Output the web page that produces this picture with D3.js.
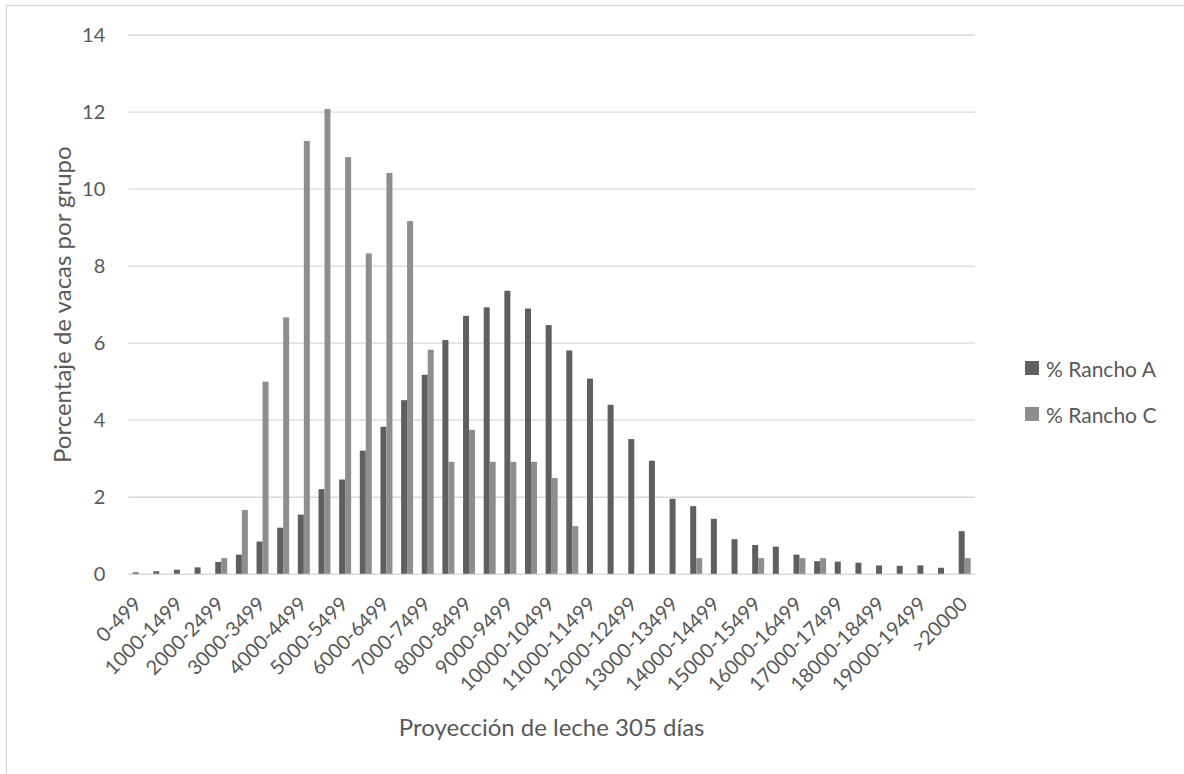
<!DOCTYPE html>
<html>
<head>
<meta charset="utf-8">
<script src="https://cdn.jsdelivr.net/npm/d3@7"></script>
<style>
  html, body { margin: 0; padding: 0; background: #ffffff; }
  svg { display: block; }
  text { font-family: Lato, "Open Sans", sans-serif; fill: #595959; }
</style>
</head>
<body>
<svg id="chart" width="1184" height="774"></svg>
<script>
const categories = ["0-499","500-999","1000-1499","1500-1999","2000-2499","2500-2999","3000-3499","3500-3999","4000-4499","4500-4999","5000-5499","5500-5999","6000-6499","6500-6999","7000-7499","7500-7999","8000-8499","8500-8999","9000-9499","9500-9999","10000-10499","10500-10999","11000-11499","11500-11999","12000-12499","12500-12999","13000-13499","13500-13999","14000-14499","14500-14999","15000-15499","15500-15999","16000-16499","16500-16999","17000-17499","17500-17999","18000-18499","18500-18999","19000-19499","19500-19999",">20000"];
const ranchoA = [0.05,0.08,0.12,0.18,0.32,0.51,0.85,1.21,1.55,2.21,2.46,3.21,3.83,4.52,5.18,6.08,6.71,6.93,7.36,6.90,6.47,5.81,5.08,4.40,3.51,2.95,1.96,1.77,1.44,0.91,0.76,0.72,0.51,0.34,0.33,0.30,0.23,0.22,0.23,0.17,1.12];
const ranchoC = [0,0,0,0,0.42,1.67,5.00,6.67,11.25,12.08,10.83,8.33,10.42,9.17,5.83,2.92,3.75,2.92,2.92,2.92,2.50,1.25,0,0,0,0,0,0.42,0,0,0.42,0,0.42,0.42,0,0,0,0,0,0,0.42];
const seriesNames = ["% Rancho A", "% Rancho C"];
const seriesColors = ["#5f5f5f", "#8e8e8e"];
const yTicks = [0,2,4,6,8,10,12,14];
const xTitle = "Proyección de leche 305 días";
const yTitle = "Porcentaje de vacas por grupo";

const svg = d3.select("#chart");
const plotL = 128.3, plotR = 975, plotT = 35, plotB = 574.3;

// chart border
svg.append("rect").attr("x", 6.5).attr("y", 5.5).attr("width", 1300).attr("height", 900)
  .attr("fill", "none").attr("stroke", "#d9d9d9").attr("stroke-width", 1.3);

const x = d3.scaleBand().domain(categories).range([plotL, plotR]).padding(0);
const y = d3.scaleLinear().domain([0, 14]).range([plotB, plotT]);

// gridlines
svg.append("g").selectAll("line").data(yTicks).join("line")
  .attr("x1", plotL).attr("x2", plotR)
  .attr("y1", d => y(d)).attr("y2", d => y(d))
  .attr("stroke", "#d9d9d9").attr("stroke-width", 1.3);

// y tick labels via axis
const yAxis = svg.append("g").attr("transform", `translate(${plotL},0)`)
  .call(d3.axisLeft(y).tickValues(yTicks).tickSize(0).tickPadding(23).tickFormat(d3.format("d")));
yAxis.select(".domain").remove();
yAxis.selectAll("text").style("font-size", "20px").attr("fill", "#595959")
  .style("font-family", "Lato, 'Open Sans', sans-serif");

// bars
const bw = x.bandwidth();
const barW = bw * 0.29;
const series = [ranchoA, ranchoC];
series.forEach((vals, si) => {
  svg.append("g").selectAll("rect").data(categories).join("rect")
    .attr("x", (c) => x(c) + bw / 2 - barW + si * barW)
    .attr("width", barW)
    .attr("y", (c, i) => y(vals[i]))
    .attr("height", (c, i) => y(0) - y(vals[i]))
    .attr("fill", seriesColors[si]);
});

// x axis line
svg.append("line").attr("x1", plotL).attr("x2", plotR).attr("y1", plotB).attr("y2", plotB)
  .attr("stroke", "#d9d9d9").attr("stroke-width", 1.3);

// x tick labels (every other category)
const shown = categories.filter((c, i) => i % 2 === 0);
const xAxis = svg.append("g").attr("transform", `translate(0,${plotB})`)
  .call(d3.axisBottom(x).tickValues(shown).tickSize(0).tickPadding(0));
xAxis.select(".domain").remove();
xAxis.selectAll("text")
  .style("font-size", "20px").attr("fill", "#595959")
  .style("font-family", "Lato, 'Open Sans', sans-serif")
  .attr("text-anchor", "end")
  .attr("dy", null).attr("y", null)
  .attr("transform", "translate(4,31) rotate(-45)");

// axis titles
svg.append("text").attr("x", (plotL + plotR) / 2).attr("y", 736)
  .attr("text-anchor", "middle").style("font-size", "24px").text(xTitle);
svg.append("text").attr("transform", `translate(61,${(plotT + plotB) / 2}) rotate(-90)`)
  .attr("text-anchor", "middle").attr("dominant-baseline", "central")
  .style("font-size", "24px").text(yTitle);

// legend
const leg = svg.append("g");
seriesNames.forEach((name, i) => {
  const cy = 368 + i * 46;
  leg.append("rect").attr("x", 1025).attr("y", cy - 7).attr("width", 14).attr("height", 14)
    .attr("fill", seriesColors[i]);
  leg.append("text").attr("x", 1046).attr("y", cy).attr("dominant-baseline", "central")
    .style("font-size", "21px").text(name);
});
</script>
</body>
</html>
